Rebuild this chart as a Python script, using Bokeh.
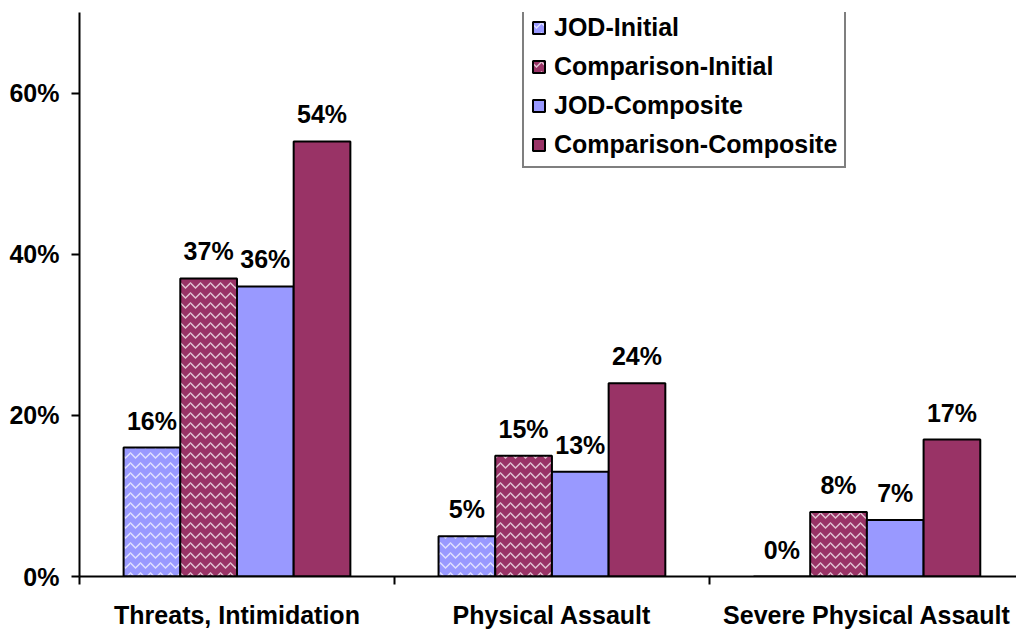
from bokeh.plotting import figure
from bokeh.models import (ColumnDataSource, LabelSet, Legend, LegendItem,
                          FixedTicker, PrintfTickFormatter, Range1d)
from bokeh.core.properties import value
from bokeh.embed import file_html
from bokeh.resources import INLINE

categories = ["Threats, Intimidation", "Physical Assault", "Severe Physical Assault"]
series = ["JOD-Initial", "Comparison-Initial", "JOD-Composite", "Comparison-Composite"]
jod_initial = [16, 5, 0]
comparison_initial = [37, 15, 8]
jod_composite = [36, 13, 7]
comparison_composite = [54, 24, 17]
y_ticks = [0, 20, 40, 60]

values = [jod_initial, comparison_initial, jod_composite, comparison_composite]
colors = ["#9999FF", "#993366", "#9999FF", "#993366"]
hatches = ["horizontal_wave", "horizontal_wave", None, None]

FONT = "Liberation Sans"
FS = "25px"
bar_w = 0.18

p = figure(frame_width=937, frame_height=564,
           x_range=Range1d(0, 2.975), y_range=Range1d(0, 70),
           output_backend="svg", toolbar_location=None,
           min_border_left=79, min_border_right=0, min_border_top=12,
           min_border_bottom=45)
p.outline_line_color = None
p.xgrid.visible = False
p.ygrid.visible = False
p.background_fill_color = "white"

centers = [i + 0.5 for i in range(len(categories))]
items = []
for k, (name, vals) in enumerate(zip(series, values)):
    xs = [c + (k - 1.5) * bar_w for c in centers]
    src = ColumnDataSource(dict(x=xs, top=vals, lab=[f"{v}%" for v in vals]))
    kw = {}
    if hatches[k]:
        kw = dict(hatch_pattern=hatches[k], hatch_color="white",
                  hatch_alpha=0.7, hatch_scale=10, hatch_weight=1.5)
    r = p.vbar(x="x", top="top", bottom=0, width=bar_w, source=src,
               fill_color=colors[k], line_color="black", line_width=2, **kw)
    items.append(LegendItem(label=name, renderers=[r]))
    labels = LabelSet(x="x", y="top", text="lab", source=src,
                      text_align="center", text_baseline="alphabetic",
                      y_offset=18, text_font=value(FONT),
                      text_font_style="bold",
                      text_font_size=value(FS), text_color="black")
    p.add_layout(labels)

# axes
p.yaxis.ticker = FixedTicker(ticks=y_ticks)
p.yaxis.formatter = PrintfTickFormatter(format="%d%%")
p.yaxis.major_tick_out = 8
p.yaxis.major_tick_in = 0
p.yaxis.minor_tick_line_color = None
p.yaxis.major_label_standoff = 12

p.xaxis.ticker = FixedTicker(ticks=centers, minor_ticks=list(range(len(categories) + 1)))
p.xaxis.major_label_overrides = {c: cat for c, cat in zip(centers, categories)}
p.xaxis.major_tick_line_color = None
p.xaxis.major_tick_out = 0
p.xaxis.major_tick_in = 0
p.xaxis.minor_tick_out = 8
p.xaxis.minor_tick_in = 0
p.xaxis.minor_tick_line_width = 2
p.xaxis.minor_tick_line_color = "black"
p.xaxis.major_label_standoff = 16

for ax in (p.xaxis, p.yaxis):
    ax.axis_line_color = "black"
    ax.axis_line_width = 2
    ax.major_tick_line_width = 2
    ax.major_label_text_font = FONT
    ax.major_label_text_font_style = "bold"
    ax.major_label_text_font_size = FS
    ax.major_label_text_color = "black"

legend = Legend(items=items, location=(443, 408))
legend.label_text_font = FONT
legend.label_text_font_style = "bold"
legend.label_text_font_size = FS
legend.label_text_color = "black"
legend.glyph_width = 15
legend.glyph_height = 15
legend.label_standoff = 8
legend.spacing = 10
legend.padding = 7
legend.margin = 0
legend.border_line_color = "black"
legend.border_line_width = 2
legend.background_fill_color = "white"
legend.background_fill_alpha = 1
p.add_layout(legend, "center")

open("out.html", "w").write(file_html(p, INLINE))
